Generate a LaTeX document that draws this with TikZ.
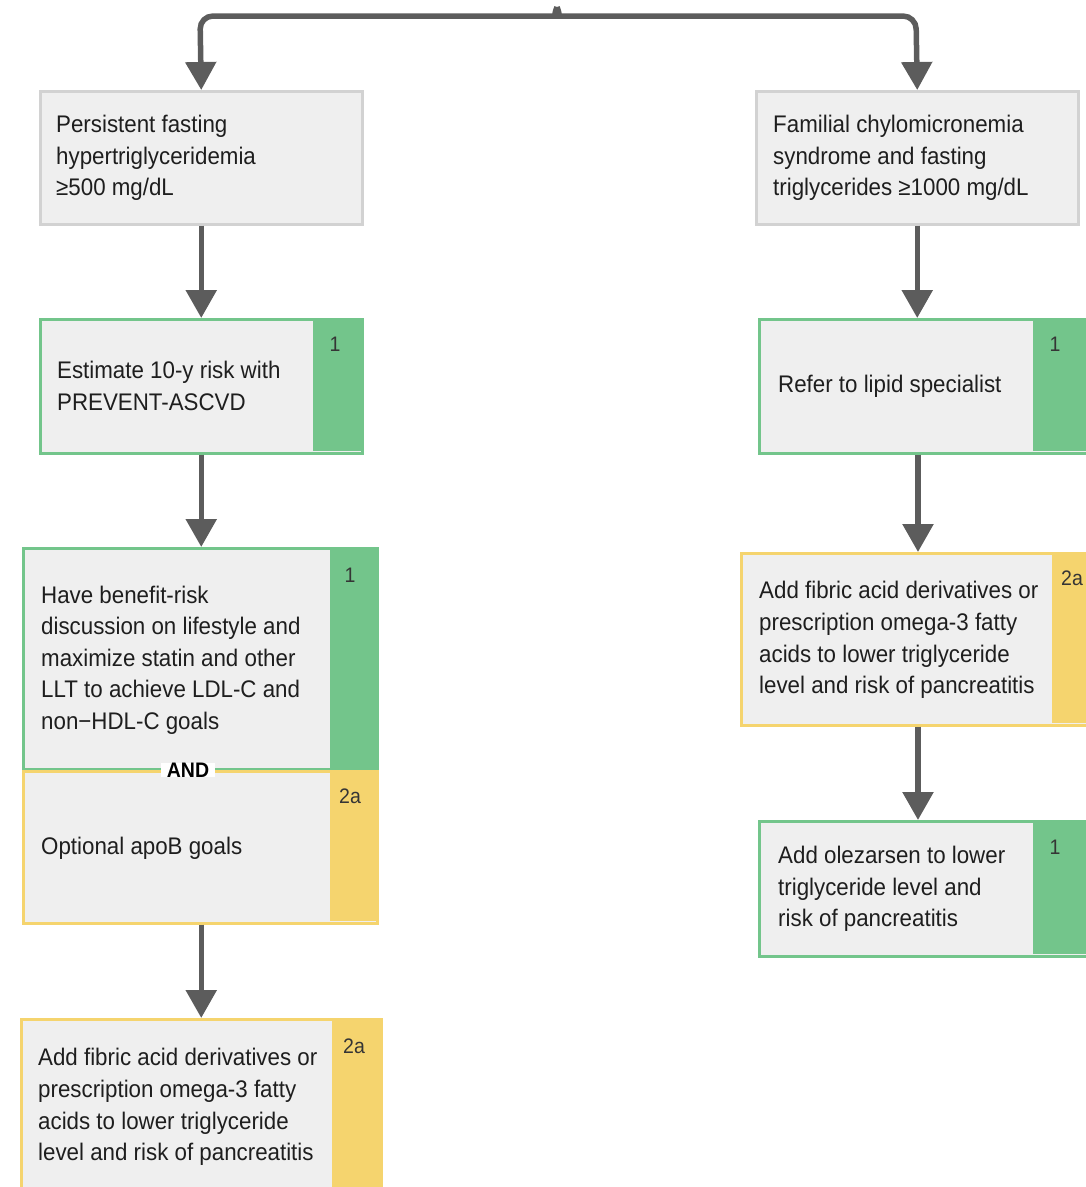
\documentclass[tikz,border=0pt]{standalone}
\usepackage{fontspec}
\setmainfont{Liberation Sans}[FakeStretch=0.93]
\usetikzlibrary{arrows.meta}
\definecolor{boxgray}{HTML}{EFEFEF}
\definecolor{bordergray}{HTML}{D2D2D2}
\definecolor{grn}{HTML}{73C58B}
\definecolor{ylw}{HTML}{F5D46E}
\definecolor{arrowgray}{HTML}{5C5C5C}
\definecolor{txtc}{HTML}{1E1E1E}
\begin{document}
\begin{tikzpicture}[x=1pt,y=-1pt,
  box/.style={draw=bordergray, line width=2.5pt, fill=boxgray, inner sep=0pt, anchor=north west},
  gbox/.style={box, draw=grn},
  ybox/.style={box, draw=ylw},
  txt/.style={anchor=west, align=left, inner sep=0pt, text=txtc, font=\fontsize{24}{31.6}\selectfont},
  num/.style={anchor=center, inner sep=0pt, text=txtc!90, font=\fontsize{21}{24}\selectfont},
  conn/.style={draw=arrowgray, line width=5.5pt},
  arr/.style={conn, -{Triangle[width=30pt,length=28pt]}}
]
\useasboundingbox (0,0) rectangle (1086,1187);

% ---- left column ----
\node[box, minimum width=322pt, minimum height=133pt] (b1) at (39,90) {};
\node[txt] (t1) at (56,158) {Persistent fasting\\hypertriglyceridemia\\≥500 mg/dL};

\node[gbox, minimum width=322pt, minimum height=134pt] (b2) at (39,318) {};
\fill[grn] (313,319) rectangle (361,451);
\node[txt] (t2) at (57,386) {Estimate 10-y risk with\\PREVENT-ASCVD};
\node[num] (n2) at (335,344) {1};

\node[gbox, minimum width=354pt, minimum height=223pt] (b3) at (22,547) {};
\fill[grn] (330,548.25) rectangle (376,770);
\node[ybox, minimum width=354pt, minimum height=152pt] (b3b) at (22,770) {};
\fill[ylw] (330,771.25) rectangle (376,921);
\draw[grn, line width=2.5pt] (23.25,768.75) -- (330,768.75);
\node[txt] (t3) at (41,660) {Have benefit-risk\\discussion on lifestyle and\\maximize statin and other\\LLT to achieve LDL-C and\\non−HDL-C goals};
\node[num] (n3) at (350,575) {1};
\node[txt] (t3b) at (41,848) {Optional apoB goals};
\node[num] (n3b) at (350,796) {2a};
\node[fill=white, inner xsep=6pt, inner ysep=0pt, text=black, font=\bfseries\fontsize{21}{22}\selectfont] (and) at (188,770) {AND};

\node[ybox, minimum width=360pt, minimum height=180pt] (b5) at (20,1018) {};
\fill[ylw] (332,1019.25) rectangle (380,1200);
\node[txt] (t5) at (38,1107) {Add fibric acid derivatives or\\prescription omega-3 fatty\\acids to lower triglyceride\\level and risk of pancreatitis};
\node[num] (n5) at (354,1046) {2a};

% ---- right column ----
\node[box, minimum width=322pt, minimum height=133pt] (r1) at (755,90) {};
\node[txt] (s1) at (773,158) {Familial chylomicronemia\\syndrome and fasting\\triglycerides ≥1000 mg/dL};

\node[gbox, minimum width=330pt, minimum height=134pt] (r2) at (758,318) {};
\fill[grn] (1033,319.25) rectangle (1090,450.75);
\node[txt] (s2) at (778,386) {Refer to lipid specialist};
\node[num] (m2) at (1055,344) {1};

\node[ybox, minimum width=350pt, minimum height=172pt] (r3) at (740,552) {};
\fill[ylw] (1052,553.25) rectangle (1092,722.75);
\node[txt] (s3) at (759,640) {Add fibric acid derivatives or\\prescription omega-3 fatty\\acids to lower triglyceride\\level and risk of pancreatitis};
\node[num, anchor=west] (m3) at (1061,578) {2a};

\node[gbox, minimum width=330pt, minimum height=135pt] (r4) at (758,820) {};
\fill[grn] (1033,821.25) rectangle (1090,953.75);
\node[txt] (s4) at (778,889) {Add olezarsen to lower\\triglyceride level and\\risk of pancreatitis};
\node[num] (m4) at (1055,847) {1};

% ---- connectors ----
\coordinate (top) at (557,7);
\draw[arr, rounded corners=13pt] (top) .. controls (555,13) and (553,16) .. (546,16) -- (200,16) -- (b1.north);
\draw[arr, rounded corners=13pt] (top) .. controls (559,13) and (561,16) .. (568,16) -- (916,16) -- (r1.north);

\draw[arr] (b1.south) -- (b2.north);
\draw[arr] (b2.south) -- (b3.north -| b2.south);
\draw[arr] (b3b.south -| b2.south) -- (b5.north -| b2.south);

\draw[arr] (r1.south) -- (r2.north -| r1.south);
\draw[arr] (r2.south -| 918,0) -- (r3.north -| 918,0);
\draw[arr] (r3.south -| 918,0) -- (r4.north -| 918,0);
\end{tikzpicture}
\end{document}
